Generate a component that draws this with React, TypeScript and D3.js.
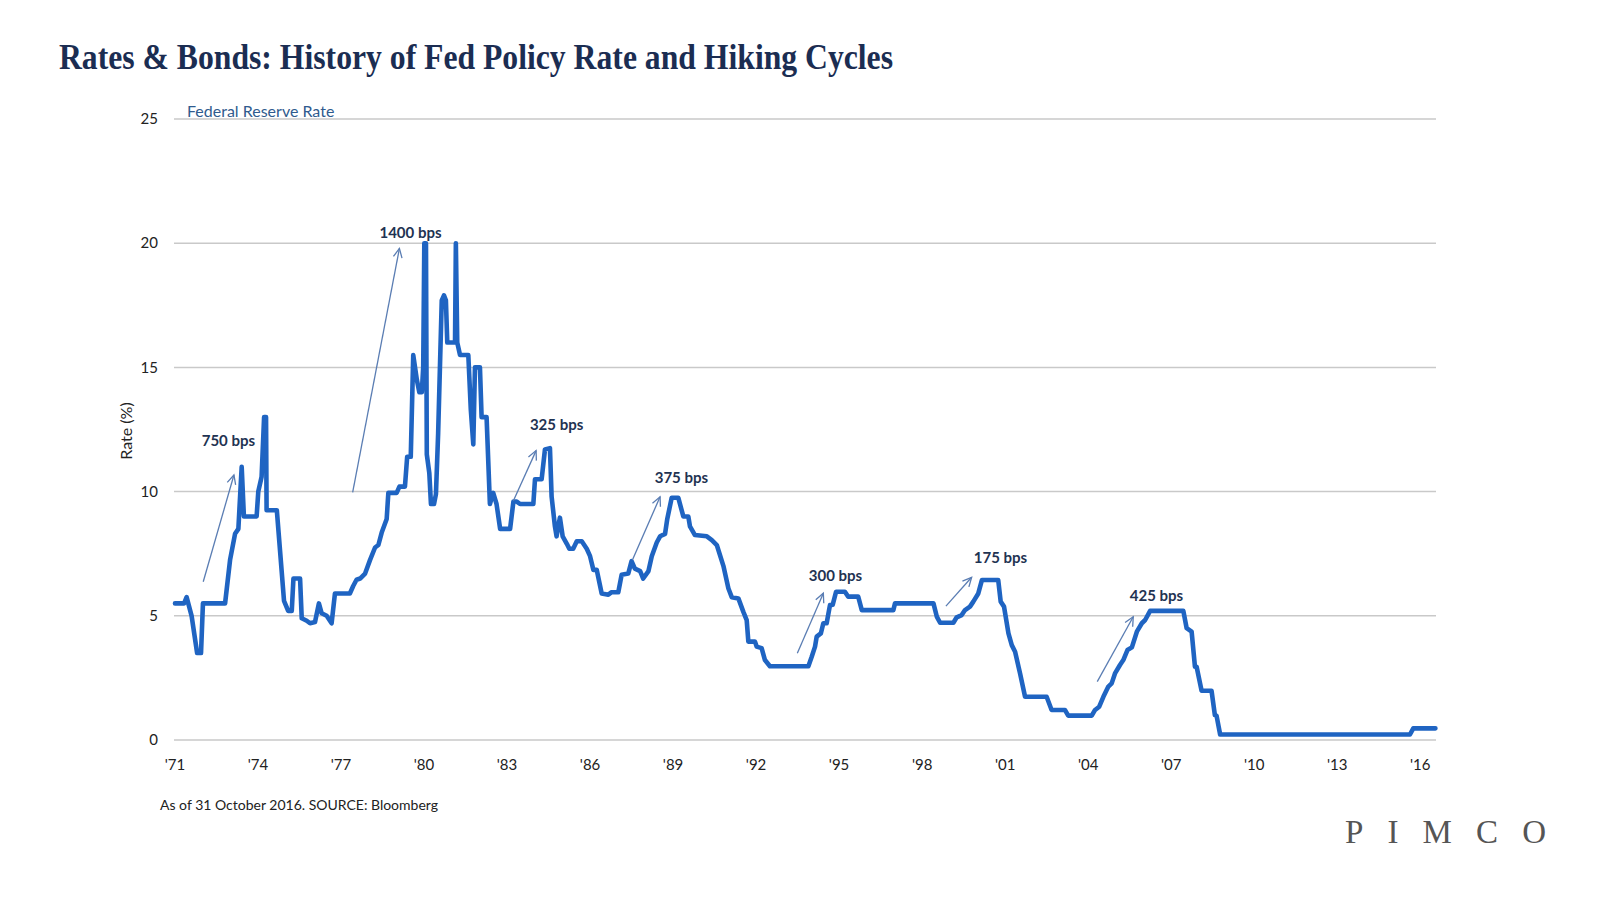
import React from 'react';
import * as d3 from 'd3';

// Fed policy rate (upper bound): [decimal year, rate %]
const fedRate: [number, number][] = [
  [1971.0, 5.5], [1971.33, 5.5], [1971.42, 5.75], [1971.6, 5.0], [1971.8, 3.5], [1971.94, 3.5],
  [1972.01, 5.5], [1972.81, 5.5], [1972.99, 7.25], [1973.17, 8.3], [1973.29, 8.5], [1973.41, 11.0],
  [1973.49, 9.0], [1973.95, 9.0], [1974.01, 10.0], [1974.13, 10.6], [1974.22, 13.0], [1974.29, 13.0],
  [1974.31, 9.25], [1974.68, 9.25], [1974.94, 5.6], [1975.09, 5.2], [1975.22, 5.2], [1975.28, 6.5],
  [1975.52, 6.5], [1975.58, 4.9], [1975.76, 4.8], [1975.88, 4.7], [1976.06, 4.75], [1976.2, 5.5],
  [1976.3, 5.1], [1976.48, 5.0], [1976.66, 4.7], [1976.78, 5.9], [1977.32, 5.9], [1977.44, 6.2],
  [1977.56, 6.45], [1977.69, 6.5], [1977.87, 6.7], [1978.05, 7.25], [1978.23, 7.75], [1978.35, 7.85],
  [1978.47, 8.35], [1978.65, 8.9], [1978.71, 9.95], [1979.01, 9.95], [1979.11, 10.2], [1979.31, 10.2],
  [1979.39, 11.4], [1979.52, 11.4], [1979.61, 15.5], [1979.74, 14.5], [1979.83, 14.0], [1979.92, 14.0],
  [1979.97, 15.0], [1980.01, 20.0], [1980.07, 20.0], [1980.1, 11.5], [1980.19, 10.75], [1980.25, 9.5],
  [1980.36, 9.5], [1980.43, 9.9], [1980.51, 12.35], [1980.64, 17.7], [1980.72, 17.9], [1980.79, 17.7],
  [1980.84, 16.0], [1981.12, 16.0], [1981.15, 20.0], [1981.2, 16.0], [1981.3, 15.5], [1981.6, 15.5],
  [1981.69, 13.3], [1981.78, 11.9], [1981.84, 15.0], [1982.02, 15.0], [1982.08, 13.0], [1982.26, 13.0],
  [1982.38, 9.5], [1982.5, 9.95], [1982.62, 9.5], [1982.75, 8.5], [1983.11, 8.5], [1983.23, 9.6],
  [1983.35, 9.6], [1983.47, 9.5], [1983.95, 9.5], [1984.01, 10.5], [1984.25, 10.5], [1984.37, 11.7],
  [1984.55, 11.75], [1984.61, 9.8], [1984.73, 8.6], [1984.79, 8.2], [1984.85, 8.6], [1984.91, 8.95],
  [1985.01, 8.2], [1985.16, 7.9], [1985.25, 7.7], [1985.39, 7.7], [1985.52, 8.0], [1985.7, 8.0],
  [1985.88, 7.7], [1986.0, 7.4], [1986.12, 6.85], [1986.24, 6.85], [1986.42, 5.9], [1986.66, 5.85],
  [1986.78, 5.95], [1987.02, 5.95], [1987.14, 6.65], [1987.38, 6.7], [1987.5, 7.2], [1987.62, 6.9],
  [1987.81, 6.8], [1987.92, 6.5], [1988.11, 6.8], [1988.23, 7.4], [1988.41, 7.95], [1988.53, 8.2],
  [1988.71, 8.3], [1988.79, 8.9], [1988.95, 9.75], [1989.19, 9.75], [1989.37, 9.0], [1989.55, 9.0],
  [1989.61, 8.6], [1989.79, 8.25], [1990.22, 8.2], [1990.4, 8.05], [1990.58, 7.85], [1990.82, 7.0],
  [1991.0, 6.1], [1991.12, 5.75], [1991.36, 5.7], [1991.54, 5.16], [1991.66, 4.83], [1991.72, 3.96],
  [1991.96, 3.96], [1992.02, 3.76], [1992.2, 3.7], [1992.32, 3.22], [1992.5, 2.97], [1993.89, 2.97],
  [1994.01, 3.35], [1994.13, 3.76], [1994.19, 4.16], [1994.34, 4.29], [1994.43, 4.7], [1994.55, 4.7],
  [1994.67, 5.43], [1994.77, 5.45], [1994.89, 5.97], [1995.21, 5.97], [1995.33, 5.77], [1995.69, 5.77],
  [1995.82, 5.23], [1996.96, 5.23], [1997.02, 5.5], [1998.41, 5.5], [1998.53, 4.97], [1998.65, 4.72],
  [1999.13, 4.72], [1999.25, 4.94], [1999.43, 5.03], [1999.55, 5.23], [1999.73, 5.37], [1999.85, 5.57],
  [2000.03, 5.9], [2000.16, 6.44], [2000.75, 6.44], [2000.84, 5.57], [2000.96, 5.37], [2001.12, 4.29],
  [2001.24, 3.82], [2001.36, 3.55], [2001.54, 2.68], [2001.72, 1.74], [2002.5, 1.74], [2002.68, 1.21],
  [2003.16, 1.21], [2003.28, 0.98], [2004.13, 0.98], [2004.25, 1.21], [2004.4, 1.34], [2004.55, 1.74],
  [2004.73, 2.15], [2004.85, 2.28], [2004.97, 2.68], [2005.15, 3.02], [2005.27, 3.22], [2005.42, 3.62],
  [2005.58, 3.73], [2005.76, 4.36], [2005.94, 4.7], [2006.06, 4.83], [2006.24, 5.2], [2007.44, 5.2],
  [2007.56, 4.5], [2007.74, 4.36], [2007.86, 2.95], [2007.92, 2.95], [2008.1, 1.98], [2008.46, 1.98],
  [2008.58, 1.0], [2008.64, 0.98], [2008.77, 0.22], [2015.63, 0.22], [2015.75, 0.47], [2016.55, 0.47],
];

const yTicks = [0, 5, 10, 15, 20, 25];
const xTickYears = [1971, 1974, 1977, 1980, 1983, 1986, 1989, 1992, 1995, 1998, 2001, 2004, 2007, 2010, 2013, 2016];

// hiking-cycle callouts: arrow tail, arrow head, label anchor (year, rate)
const hikes = [
  { label: '750 bps', tail: [1972.02, 6.37], head: [1973.13, 10.67], text: [1972.93, 11.84] },
  { label: '1400 bps', tail: [1977.42, 9.97], head: [1979.11, 19.79], text: [1979.51, 20.21] },
  { label: '325 bps', tail: [1983.23, 9.63], head: [1984.05, 11.65], text: [1984.79, 12.48] },
  { label: '375 bps', tail: [1987.53, 7.25], head: [1988.53, 9.79], text: [1989.3, 10.35] },
  { label: '300 bps', tail: [1993.49, 3.49], head: [1994.43, 5.91], text: [1994.87, 6.4] },
  { label: '175 bps', tail: [1998.86, 5.39], head: [1999.79, 6.55], text: [2000.83, 7.13] },
  { label: '425 bps', tail: [2004.33, 2.35], head: [2005.63, 4.96], text: [2006.47, 5.6] },
];

const W = 1600;
const H = 900;
const sans = 'Lato, "Open Sans", sans-serif';

export default function App() {
  const x = d3.scaleLinear().domain([1971, 2016]).range([175, 1420.2]);
  const y = d3.scaleLinear().domain([0, 25]).range([740, 119]);
  const gridX0 = 174;
  const gridX1 = 1436;

  const line = d3.line<[number, number]>()
    .x(d => x(d[0]))
    .y(d => y(d[1]))
    .curve(d3.curveLinear);

  const arrowHead = (t: number[], h: number[]) => {
    const x0 = x(t[0]), y0 = y(t[1]), x1 = x(h[0]), y1 = y(h[1]);
    const ang = Math.atan2(y1 - y0, x1 - x0);
    const len = 10, spread = 0.45;
    const a1 = [x1 - len * Math.cos(ang - spread), y1 - len * Math.sin(ang - spread)];
    const a2 = [x1 - len * Math.cos(ang + spread), y1 - len * Math.sin(ang + spread)];
    return `M${a1[0]},${a1[1]}L${x1},${y1}L${a2[0]},${a2[1]}`;
  };

  return (
    <svg width={W} height={H} viewBox={`0 0 ${W} ${H}`}
      style={{ position: 'absolute', left: 0, top: 0, background: '#fff', display: 'block' }}>
      <rect width={W} height={H} fill="#fff" />

      <text x={59} y={69} fontFamily='"Liberation Serif", "Times New Roman", serif' fontWeight="bold"
        fontSize={35} fill="#1b2d52" textLength={834} lengthAdjust="spacingAndGlyphs">
        Rates &amp; Bonds: History of Fed Policy Rate and Hiking Cycles
      </text>

      {/* grid */}
      <g>
        {yTicks.map(t => (
          <line key={t} x1={gridX0} x2={gridX1} y1={y(t)} y2={y(t)} stroke="#c9c9c9" strokeWidth={1.5} />
        ))}
      </g>

      {/* y ticks */}
      <g fontFamily={sans} fontSize={15} fill="#222" textAnchor="end">
        {yTicks.map(t => (
          <text key={t} x={158} y={y(t)} dy="0.35em">{t}</text>
        ))}
      </g>
      <text transform={`translate(132,431) rotate(-90)`} textAnchor="middle" fontFamily={sans}
        fontSize={16} fill="#222">Rate (%)</text>

      {/* x ticks */}
      <g fontFamily={sans} fontSize={15} fill="#222" textAnchor="middle">
        {xTickYears.map(yr => (
          <text key={yr} x={x(yr)} y={770}>{`'${String(yr).slice(2)}`}</text>
        ))}
      </g>

      <text x={187} y={117} fontFamily={sans} fontSize={16} fill="#2f5b8e">Federal Reserve Rate</text>

      {/* rate line */}
      <path d={line(fedRate) || ''} fill="none" stroke="#1f64c2" strokeWidth={4.6}
        strokeLinejoin="round" strokeLinecap="round" />

      {/* hiking cycles */}
      <g>
        {hikes.map(h => (
          <g key={h.label}>
            <line x1={x(h.tail[0])} y1={y(h.tail[1])} x2={x(h.head[0])} y2={y(h.head[1])}
              stroke="#5a7db3" strokeWidth={1.3} />
            <path d={arrowHead(h.tail, h.head)} fill="none" stroke="#5a7db3" strokeWidth={1.3} />
            <text x={x(h.text[0])} y={y(h.text[1])} textAnchor="middle" fontFamily={sans}
              fontWeight="bold" fontSize={15} fill="#1f3352">{h.label}</text>
          </g>
        ))}
      </g>

      <text x={160} y={810} fontFamily={sans} fontSize={14} fill="#222">
        As of 31 October 2016. SOURCE: Bloomberg
      </text>

      <text x={1345} y={843} fontFamily='"Liberation Serif", "Times New Roman", serif' fontSize={33}
        fill="#555" textLength={201} lengthAdjust="spacing">PIMCO</text>
    </svg>
  );
}
